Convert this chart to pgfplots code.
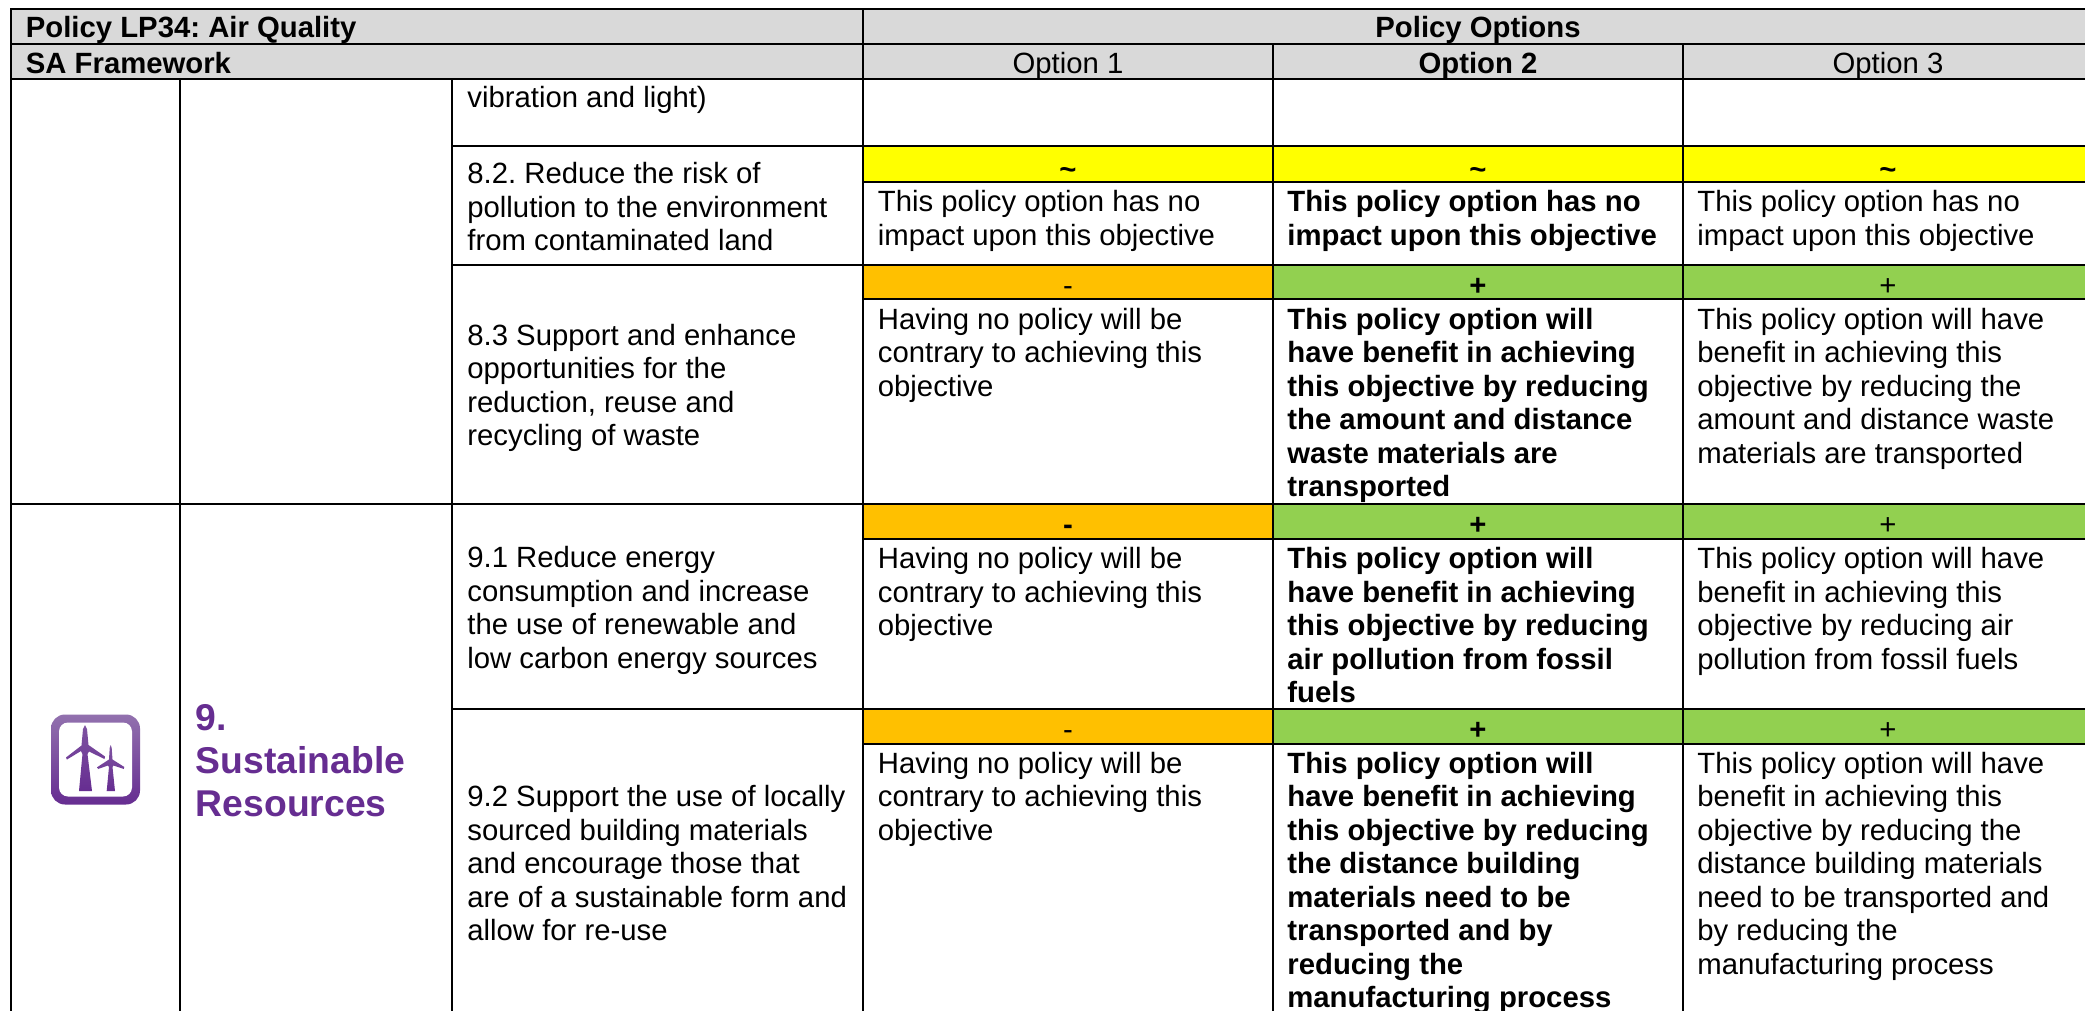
\documentclass[border=0pt]{standalone}
\usepackage{fontspec}
\setmainfont{Liberation Sans}
\usepackage{pgfplots}
\pgfplotsset{compat=1.18}
\frenchspacing
\definecolor{hdr}{HTML}{D9D9D9}
\definecolor{yel}{HTML}{FFFF00}
\definecolor{org}{HTML}{FFC000}
\definecolor{grn}{HTML}{92D050}
\definecolor{pur}{HTML}{662D91}
\definecolor{icoA}{HTML}{9271AE}
\definecolor{icoB}{HTML}{662D91}
\newcommand{\tf}{\fontsize{14.65pt}{16pt}\selectfont\frenchspacing}
\newcommand{\T}[3]{\node[anchor=base west,inner sep=0pt,yshift=-0.6pt,font=\tf] at (axis cs:#1,#2) {#3};}
\newcommand{\B}[3]{\node[anchor=base west,inner sep=0pt,yshift=-0.6pt,font=\tf\bfseries] at (axis cs:#1,#2) {#3};}
\newcommand{\C}[3]{\node[anchor=base,inner sep=0pt,yshift=-0.6pt,font=\tf] at (axis cs:#1,#2) {#3};}
\newcommand{\D}[3]{\node[anchor=base,inner sep=0pt,yshift=-0.6pt,font=\tf\bfseries] at (axis cs:#1,#2) {#3};}
\newcommand{\Rc}[5]{\addplot[draw=none,fill=#5,forget plot] coordinates {(#1,#2) (#3,#2) (#3,#4) (#1,#4)} --cycle;}
\newcommand{\Ln}[4]{\addplot[black,line width=1.1pt,forget plot,line cap=rect] coordinates {(#1,#2) (#3,#4)};}
\newcommand{\Ic}{\addplot[draw=none,line join=round,top color=icoA!55!icoB,bottom color=icoB,forget plot] coordinates}
\begin{document}
\begin{tikzpicture}
\begin{axis}[
  scale only axis, width=1042.5pt, height=505.5pt,
  xmin=0, xmax=2085, ymin=0, ymax=1011, y dir=reverse,
  hide axis, clip=true]
\Rc{0}{0}{2085}{1011}{white}
% header fills
\Rc{11}{9}{2085}{79}{hdr}
% status fills
\Rc{863}{146}{2085}{182}{yel}
\Rc{863}{265}{1273}{299}{org}
\Rc{1273}{265}{2085}{299}{grn}
\Rc{863}{504}{1273}{539}{org}
\Rc{1273}{504}{2085}{539}{grn}
\Rc{863}{709}{1273}{744}{org}
\Rc{1273}{709}{2085}{744}{grn}
% rules
\Ln{11}{8.7}{2085}{8.7}
\Ln{11}{43.7}{2085}{43.7}
\Ln{11}{78.7}{2085}{78.7}
\Ln{452}{145.7}{2085}{145.7}
\Ln{863}{181.7}{2085}{181.7}
\Ln{452}{265}{2085}{265}
\Ln{863}{299.3}{2085}{299.3}
\Ln{11}{504}{2085}{504}
\Ln{863}{538.7}{2085}{538.7}
\Ln{452}{709}{2085}{709}
\Ln{863}{743.7}{2085}{743.7}
\Ln{11}{8.7}{11}{1011}
\Ln{180}{78.7}{180}{1011}
\Ln{452}{78.7}{452}{1011}
\Ln{863}{8.7}{863}{1011}
\Ln{1273}{43.7}{1273}{1011}
\Ln{1683}{43.7}{1683}{1011}
% icon
\path[top color=icoA,bottom color=icoB,rounded corners=7pt] (axis cs:51,714.5) rectangle (axis cs:140,804.5);
\path[fill=white,rounded corners=4.5pt] (axis cs:59,722.5) rectangle (axis cs:132,796.5);
\Ic {(79,791) (82.5,754) (81,751) (67,759.5) (66,757.5) (81.5,745.5) (83,729) (85,725) (87,729) (88.5,745) (105,756.5) (104.5,759) (89,751.5) (87.5,754) (92,791)} --cycle;
\Ic {(106.7,791) (109,767) (108,765.5) (98,769) (97.5,767) (109,759.5) (109.7,748) (110.7,745) (111.7,748) (112.5,759.5) (124.3,767) (123.8,769) (113.5,765.5) (112.5,767) (115,791)} --cycle;
% headers
\B{25.5}{36.7}{Policy LP34: Air Quality}
\B{25.5}{72}{SA Framework}
\D{1478}{36.7}{Policy Options}
\C{1068}{72}{Option 1}
\D{1478}{72}{Option 2}
\C{1888}{72}{Option 3}
% objective title
\node[anchor=base west,inner sep=0pt,yshift=-0.6pt,text=pur,font=\fontsize{18.65pt}{20pt}\selectfont\bfseries] at (axis cs:195.5,729) {9.};
\node[anchor=base west,inner sep=0pt,yshift=-0.6pt,text=pur,font=\fontsize{18.65pt}{20pt}\selectfont\bfseries] at (axis cs:195.5,772) {Sustainable};
\node[anchor=base west,inner sep=0pt,yshift=-0.6pt,text=pur,font=\fontsize{18.65pt}{20pt}\selectfont\bfseries] at (axis cs:195.5,815) {Resources};
% column 3
\T{467}{106.7}{vibration and light)}
\T{467}{182.7}{8.2. Reduce the risk of}
\T{467}{216.2}{pollution to the environment}
\T{467}{249.7}{from contaminated land}
\T{467}{344}{8.3 Support and enhance}
\T{467}{377.5}{opportunities for the}
\T{467}{411}{reduction, reuse and}
\T{467}{444.5}{recycling of waste}
\T{467}{566.5}{9.1 Reduce energy}
\T{467}{600}{consumption and increase}
\T{467}{633.5}{the use of renewable and}
\T{467}{667}{low carbon energy sources}
\T{467}{805.5}{9.2 Support the use of locally}
\T{467}{839}{sourced building materials}
\T{467}{872.5}{and encourage those that}
\T{467}{906}{are of a sustainable form and}
\T{467}{939.5}{allow for re-use}
% status signs
\D{1068}{178.5}{\textasciitilde}
\D{1478}{178.5}{\textasciitilde}
\D{1888}{178.5}{\textasciitilde}
\C{1068}{294.5}{-}
\D{1478}{294.5}{+}
\C{1888}{294.5}{+}
\D{1068}{533.5}{-}
\D{1478}{533.5}{+}
\C{1888}{533.5}{+}
\C{1068}{738.5}{-}
\D{1478}{738.5}{+}
\C{1888}{738.5}{+}
% row 8.2
\T{877.5}{210.3}{This policy option has no}
\T{877.5}{243.8}{impact upon this objective}
\B{1287}{210.3}{This policy option has no}
\B{1287}{243.8}{impact upon this objective}
\T{1697}{210.3}{This policy option has no}
\T{1697}{243.8}{impact upon this objective}
% row 8.3
\T{877.5}{328}{Having no policy will be}
\T{877.5}{361.5}{contrary to achieving this}
\T{877.5}{395}{objective}
\B{1287}{328}{This policy option will}
\B{1287}{361.5}{have benefit in achieving}
\B{1287}{395}{this objective by reducing}
\B{1287}{428.5}{the amount and distance}
\B{1287}{462}{waste materials are}
\B{1287}{495.5}{transported}
\T{1697}{328}{This policy option will have}
\T{1697}{361.5}{benefit in achieving this}
\T{1697}{395}{objective by reducing the}
\T{1697}{428.5}{amount and distance waste}
\T{1697}{462}{materials are transported}
% row 9.1
\T{877.5}{567.3}{Having no policy will be}
\T{877.5}{600.8}{contrary to achieving this}
\T{877.5}{634.3}{objective}
\B{1287}{567.3}{This policy option will}
\B{1287}{600.8}{have benefit in achieving}
\B{1287}{634.3}{this objective by reducing}
\B{1287}{667.8}{air pollution from fossil}
\B{1287}{701.3}{fuels}
\T{1697}{567.3}{This policy option will have}
\T{1697}{600.8}{benefit in achieving this}
\T{1697}{634.3}{objective by reducing air}
\T{1697}{667.8}{pollution from fossil fuels}
% row 9.2
\T{877.5}{772}{Having no policy will be}
\T{877.5}{805.5}{contrary to achieving this}
\T{877.5}{839}{objective}
\B{1287}{772}{This policy option will}
\B{1287}{805.5}{have benefit in achieving}
\B{1287}{839}{this objective by reducing}
\B{1287}{872.5}{the distance building}
\B{1287}{906}{materials need to be}
\B{1287}{939.5}{transported and by}
\B{1287}{973}{reducing the}
\B{1287}{1006.5}{manufacturing process}
\T{1697}{772}{This policy option will have}
\T{1697}{805.5}{benefit in achieving this}
\T{1697}{839}{objective by reducing the}
\T{1697}{872.5}{distance building materials}
\T{1697}{906}{need to be transported and}
\T{1697}{939.5}{by reducing the}
\T{1697}{973}{manufacturing process}
\end{axis}
\end{tikzpicture}
\end{document}
